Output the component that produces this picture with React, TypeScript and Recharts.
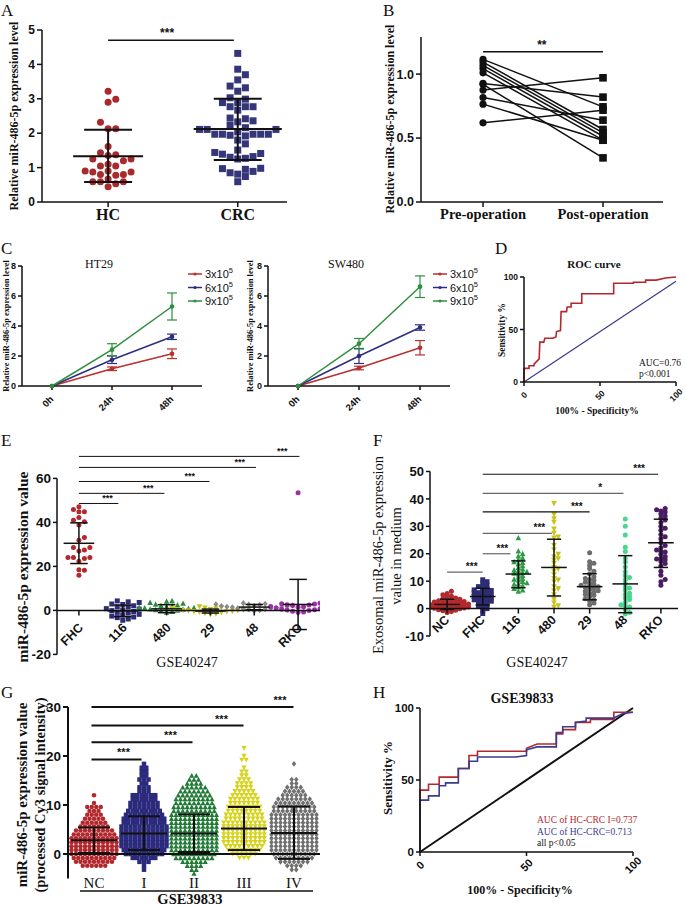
import React from 'react';
import {
  ScatterChart, Scatter, LineChart, Line, XAxis, YAxis, ReferenceLine, ReferenceDot, ErrorBar,
} from 'recharts';

const SANS = '"Liberation Sans", Arial, sans-serif';
const SERIF = '"Liberation Serif", "Times New Roman", serif';
const INK = '#111';
const RED = '#b3282d';
const NAVY = '#2e2d74';
const TOP = 900; // draw bars and brackets above the dots

// --- A: HC vs CRC ---
const aGroups = ['HC', 'CRC'];
const hcValues = [3.22, 2.99, 2.9, 2.32, 2.13, 2.13, 1.61, 1.43, 1.35, 1.37, 1.25, 1.25, 1.1, 1.05, 1.05, 1.2, 0.9, 0.87, 0.9, 0.87, 0.8, 0.78, 0.8, 0.67, 0.59, 0.59, 0.59, 0.53, 0.44];
const crcValues = [4.32, 3.86, 3.7, 3.55, 3.32, 3.37, 3.22, 2.99, 3.03, 2.89, 2.77, 2.77, 2.77, 2.89, 2.67, 2.42, 2.36, 2.44, 2.33, 2.23, 2.11, 2.11, 2.11, 2.16, 1.97, 1.97, 1.97, 2.04, 1.92, 1.94, 1.97, 1.97, 1.69, 1.8, 1.51, 1.44, 1.39, 1.32, 1.27, 1.25, 1.3, 1.41, 0.98, 0.95, 0.89, 0.85, 0.81, 0.74, 0.97, 0.59];
const aMean = [1.33, 2.12];
const aLow = [0.58, 1.22];
const aHigh = [2.1, 3.0];
const aMeanHalf = [0.27, 0.34];

// --- B: pre / post operation pairs ---
const bGroups = ['Pre-operation', 'Post-operation'];
const preOp = [1.115, 1.094, 1.068, 1.042, 1.01, 0.927, 0.92, 0.875, 0.817, 0.765, 0.619];
const postOp = [0.744, 0.567, 0.54, 0.514, 0.483, 0.82, 0.345, 0.971, 0.64, 0.483, 0.718];

// --- C: time course ---
const hours = ['0h', '24h', '48h'];
const ht29Low = [0, 1.15, 2.15];
const ht29LowErr = [0, 0.12, 0.32];
const ht29Mid = [0, 1.75, 3.28];
const ht29MidErr = [0, 0.25, 0.18];
const ht29High = [0, 2.42, 5.3];
const ht29HighErr = [0, 0.4, 0.9];
const swLow = [0, 1.2, 2.55];
const swLowErr = [0, 0.12, 0.48];
const swMid = [0, 2.0, 3.9];
const swMidErr = [0, 0.5, 0.18];
const swHigh = [0, 2.82, 6.62];
const swHighErr = [0, 0.35, 0.72];
const cellDensity = ['3x10', '6x10', '9x10'];
const cColors = ['#b8312f', '#2d2d82', '#2f8f3f'];

// --- D: ROC ---
const rocD = [[0, 0], [0, 13], [3.3, 13], [3.3, 15.5], [6.6, 15.5], [6.6, 17], [10, 22], [10.4, 38], [13, 38], [13.7, 41.6], [19, 41.6], [21, 43], [21.4, 48], [24, 49], [24.4, 67], [28, 67], [28.4, 71.4], [31, 71.4], [31, 75], [38, 75], [38, 84], [59, 84], [59, 94], [72, 94], [72, 95], [80, 95], [80, 97], [87, 97], [93, 99], [100, 100]];
const rocDRef = [[0, 0], [100, 96]];

// --- E: GSE40247 cell lines ---
const eGroups = ['FHC', '116', '480', '29', '48', 'RKO'];
const eFhc = [47.1, 45.9, 44.8, 44.8, 42.2, 41, 40.3, 38.8, 33.1, 31.9, 28.6, 28.6, 27.4, 27, 24, 24, 24, 23.6, 22.3, 18.5, 18.2, 16];
const e116 = [4.3, 3.9, 3.6, 2.9, 2.7, 2.1, 1.6, 1.5, 0.8, 0.6, 0.2, -0.1, -0.5, -0.9, -1.2, -1.8, -2.1, -2.6, -3.0, -3.3, -3.9, -4.5];
const e480 = [4.4, 4.1, 3.6, 3.2, 2.8, 2.5, 2.0, 1.7, 1.4, 1.1, 0.9, 0.6, 0.3, 0.1, -0.2, -0.5, -0.8, 0.5, 1.2, 2.2];
const e29 = [1.6, 1.3, 1.1, 0.8, 0.6, 0.4, 0.2, 0.0, -0.2, -0.4, -0.6, -0.8, -1.0, -1.3, -1.6, -1.9, 0.3, -0.1, 0.9, -0.5];
const e48 = [3.3, 3.0, 2.7, 2.5, 2.3, 2.0, 1.8, 1.6, 1.4, 1.2, 1.0, 0.8, 0.6, 0.4, 0.1, -0.2, 2.1, 1.5, 0.9, 2.8];
const eRko = [53.5, 3.3, 3.0, 2.6, 2.2, 1.8, 1.4, 1.1, 0.8, 0.5, 0.2, -0.1, -0.4, -0.7, 2.9, 1.6, 0.3, 1.2, 2.4, -0.9];
const eMean = [30.5, -0.2, 0.7, -0.3, 1.5, 2.7];
const eLow = [21.3, -2.8, -1.0, -1.2, 0.3, -8.7];
const eHigh = [39.8, 2.4, 2.6, 0.6, 2.7, 14.1];
const eSig = [[0.9, 48.6, 0.65], [1.95, 53.2, 1.58], [2.98, 58.6, 2.53], [4.04, 65, 3.67], [5.03, 70, 4.64]];

// --- F: exosomal, GSE40247 ---
const fGroups = ['NC', 'FHC', '116', '480', '29', '48', 'RKO'];
const fNc = [6.3, 5.5, 5.0, 4.6, 4.2, 3.9, 3.6, 3.4, 3.1, 2.8, 2.6, 2.4, 2.2, 2.0, 1.8, 1.6, 1.5, 1.3, 1.1, 1.0, 0.8, 0.6, 0.5, 0.3, 0.2, 0.0, -0.2, -0.4, -0.6, -0.8, -1.1, 1.2, 1.7, 2.3, 0.9, 0.4, 2.9, 3.3, 1.4, -0.1, 0.7, 1.9, 2.5, 0.1, -1.4];
const fFhc = [10.5, 9.8, 9.2, 8.5, 8.0, 7.6, 7.1, 6.8, 6.4, 6.0, 5.7, 5.3, 5.0, 4.7, 4.4, 4.1, 3.8, 3.5, 3.2, 2.9, 2.5, 2.2, 1.8, 1.4, 1.0, 0.5, 0.0, -0.6, -1.8, 4.9, 3.9, 5.8, 2.7, 6.6];
const f116 = [25.8, 21, 20, 19.2, 18.5, 17.8, 17.1, 16.3, 15.6, 15.0, 14.4, 13.8, 13.2, 12.6, 12.1, 11.5, 11.0, 10.4, 9.9, 9.4, 8.9, 8.4, 7.9, 7.3, 6.8, 6.3, 12.9, 14.1, 10.7, 9.1, 16.8, 13.5];
const f480 = [38.3, 34.3, 32.8, 31.5, 29.0, 27.5, 25.7, 23.0, 21.5, 19.8, 18.8, 17.6, 16.5, 15.0, 13.6, 12.3, 11.0, 9.8, 8.0, 6.5, 5.0, 3.4, 2.0, 1.0, 0.5, 18.2, 14.4, 10.4, 26.1, 7.2];
const f29 = [20.4, 17.1, 16.5, 15.8, 14.6, 13.6, 12.7, 11.6, 11.0, 10.3, 9.6, 9.0, 8.5, 8.0, 7.5, 7.0, 6.5, 6.0, 5.5, 4.9, 4.3, 3.6, 2.8, 2.0, 1.4, 8.2, 7.7, 9.3, 6.3, 5.1, 10.6, 3.1];
const f48 = [32.7, 30.0, 26.8, 22.4, 20.8, 18.3, 17.0, 15.2, 13.4, 12.1, 10.5, 9.2, 8.0, 6.8, 5.6, 4.4, 3.3, 2.3, 1.4, 0.6, -0.4, -1.4, -2.0, 7.5, 11.3, 3.9, 1.0, 5.2];
const fRko = [36.5, 36.0, 35.6, 35.2, 34.5, 33.8, 33.0, 32.3, 31.4, 30.0, 28.6, 27.0, 25.5, 24.0, 23.0, 22.2, 21.4, 20.6, 19.8, 19.0, 18.4, 17.8, 17.2, 16.4, 15.5, 13.6, 12.2, 10.6, 9.8, 8.5, 29.3, 26.2, 20.9, 18.1];
const fMean = [1.5, 4.4, 12.6, 15, 8.0, 9.0, 24];
const fLow = [-0.3, 1.3, 7.6, 4.6, 3.2, -1.5, 15.0];
const fHigh = [3.4, 7.4, 17.4, 25.3, 12.7, 19.3, 32.6];
// [from, to, y, label x, text, grey line]
const fSig: [number, number, number, number, string, boolean][] = [
  [0, 1.0, 13.3, 0.69, '***', true],
  [1, 1.78, 20, 1.55, '***', true],
  [1, 2.94, 27.4, 2.59, '***', true],
  [1, 4.0, 35.3, 3.64, '***', false],
  [1, 4.95, 42, 4.3, '*', true],
  [1, 5.92, 49, 5.39, '***', false],
];

// --- G: GSE39833 stages, rows of [value, dots at that level] ---
const gGroups = ['NC', 'I', 'II', 'III', 'IV'];
const gNcRows = [[-2.4, 6], [-1.6, 9], [-0.8, 10], [0, 11], [0.8, 11], [1.6, 11], [2.4, 11], [3.2, 11], [4, 10], [4.8, 9], [5.6, 7], [6.4, 6], [7.2, 5], [8, 4], [8.8, 3], [9.6, 4], [10.4, 1], [12, 1]];
const gIRows = [[-3.2, 1], [-2.4, 1], [-1.6, 3], [-0.8, 6], [0, 9], [0.8, 10], [1.6, 11], [2.4, 11], [3.2, 11], [4, 11], [4.8, 11], [5.6, 11], [6.4, 10], [7.2, 10], [8, 9], [8.8, 8], [9.6, 7], [10.4, 7], [11.2, 6], [12, 6], [12.8, 3], [13.6, 3], [14.4, 2], [15.2, 3], [16, 2], [16.8, 2], [17.6, 2], [18.4, 1]];
const gIIRows = [[-4, 1], [-3.2, 2], [-2.4, 4], [-1.6, 6], [-0.8, 9], [0, 10], [0.8, 11], [1.6, 11], [2.4, 11], [3.2, 11], [4, 11], [4.8, 11], [5.6, 11], [6.4, 11], [7.2, 11], [8, 11], [8.8, 10], [9.6, 10], [10.4, 9], [11.2, 9], [12, 8], [12.8, 7], [13.6, 6], [14.4, 4], [15.2, 3], [16, 2]];
const gIIIRows = [[-0.8, 3], [0, 6], [0.8, 8], [1.6, 9], [2.4, 10], [3.2, 10], [4, 10], [4.8, 10], [5.6, 10], [6.4, 10], [7.2, 9], [8, 9], [8.8, 8], [9.6, 8], [10.4, 7], [11.2, 7], [12, 6], [12.8, 5], [13.6, 4], [14.4, 4], [15.2, 3], [16, 2], [16.8, 2], [17.6, 1], [19.2, 2], [20, 1], [21.6, 1]];
const gIVRows = [[-3.2, 2], [-2.4, 4], [-1.6, 7], [-0.8, 9], [0, 10], [0.8, 11], [1.6, 11], [2.4, 11], [3.2, 11], [4, 11], [4.8, 11], [5.6, 11], [6.4, 11], [7.2, 11], [8, 11], [8.8, 10], [9.6, 10], [10.4, 9], [11.2, 8], [12, 6], [12.8, 5], [13.6, 4], [14.4, 2], [15.2, 2], [18.4, 1]];
const gMean = [2.8, 4.2, 4.2, 5.2, 4.3];
const gLow = [0.2, 0.8, 0.4, 0.8, -1.0];
const gHigh = [5.4, 7.7, 8.1, 9.6, 9.7];
const gSig = [[0.95, 19.3, 0.59], [1.97, 22.8, 1.53], [2.99, 26.2, 2.55], [3.99, 30, 3.72]];

// --- H: ROC GSE39833 ---
const rocHStage1 = [[0, 0], [0, 43], [4, 43], [4, 47], [9, 47], [9, 52], [18, 52], [18, 58], [23, 58], [23, 67], [27, 67], [27, 70], [50, 70], [50, 72], [55, 75], [64, 75], [64, 82], [67, 82], [67, 85], [73, 85], [73, 90], [80, 90], [80, 92], [91, 92], [91, 97], [100, 97]];
const rocHAll = [[0, 0], [0, 36], [4, 36], [4, 39], [9, 39], [9, 46], [12, 46], [12, 48], [18, 48], [18, 58], [23, 58], [23, 63], [27, 63], [27, 66], [45, 66], [50, 67], [50, 71], [55, 73], [64, 73], [64, 83], [67, 83], [67, 87], [73, 87], [73, 90], [78, 91], [78, 93], [91, 93], [95, 96], [100, 97]];
const rocHRef = [[0, 0], [100, 100]];

// ---------- helpers ----------
const frame = (pl: number, pt: number, pr: number, pb: number, wY: number, hX: number) => {
  const P = 40;
  return {
    style: { position: 'absolute' as const, left: pl - P, top: pt - P },
    width: pr - pl + 2 * P,
    height: pb - pt + 2 * P,
    margin: { top: P, right: P, bottom: P - hX, left: P - wY },
  };
};

// beeswarm: points closer than dy in value get pushed sideways by dx
function swarm(values: number[], center: number, dy: number, dx: number) {
  const placed: { v: number; s: number }[] = [];
  return [...values].sort((a, b) => a - b).map((v) => {
    let s = 0;
    for (let k = 0; k < 80; k++) {
      const c = k === 0 ? 0 : k % 2 ? (k + 1) / 2 : -k / 2;
      if (!placed.some((p) => p.s === c && Math.abs(p.v - v) < dy)) { s = c; break; }
    }
    placed.push({ v, s });
    return { x: center + s * dx, y: v };
  });
}

function rows(list: number[][], center: number, dx: number) {
  const out: { x: number; y: number }[] = [];
  list.forEach(([v, n]) => {
    for (let j = 0; j < n; j++) out.push({ x: center + (j - (n - 1) / 2) * dx, y: v });
  });
  return out;
}

const toXY = (pts: number[][]) => pts.map(([x, y]) => ({ x, y }));

type Kind = 'circle' | 'square' | 'tri' | 'itri' | 'diamond';
const marker = (kind: Kind, size: number, color: string) => (p: any) => {
  const { cx, cy } = p;
  if (cx == null || cy == null) return <g />;
  const h = size / 2;
  if (kind === 'square') return <rect x={cx - h} y={cy - h} width={size} height={size} fill={color} />;
  if (kind === 'tri') return <polygon points={`${cx},${cy - h - 0.4} ${cx + h + 0.3},${cy + h} ${cx - h - 0.3},${cy + h}`} fill={color} />;
  if (kind === 'itri') return <polygon points={`${cx - h - 0.3},${cy - h} ${cx + h + 0.3},${cy - h} ${cx},${cy + h + 0.4}`} fill={color} />;
  if (kind === 'diamond') return <polygon points={`${cx},${cy - h - 0.6} ${cx + h},${cy} ${cx},${cy + h + 0.6} ${cx - h},${cy}`} fill={color} />;
  return <circle cx={cx} cy={cy} r={h} fill={color} />;
};

const seg = (key: string, x1: number, y1: number, x2: number, y2: number, sw: number, color = INK) => (
  <ReferenceLine key={key} segment={[{ x: x1, y: y1 }, { x: x2, y: y2 }]} stroke={color} strokeWidth={sw}
    ifOverflow="visible" zIndex={TOP} />
);

const meanSd = (key: string, x: number, mean: number, lo: number, hi: number, wMean: number, wCap: number, sw: number) => [
  seg(key + 'v', x, lo, x, hi, sw),
  seg(key + 'm', x - wMean, mean, x + wMean, mean, sw),
  seg(key + 'l', x - wCap, lo, x + wCap, lo, sw),
  seg(key + 'h', x - wCap, hi, x + wCap, hi, sw),
];

const textAt = (key: string, x: number, y: number, t: string, size: number, dy = -2) => (
  <ReferenceDot key={key} x={x} y={y} r={1} ifOverflow="visible" zIndex={TOP}
    shape={(p: any) => (
      <text x={p.cx} y={p.cy + dy} textAnchor="middle" fontFamily={SANS} fontWeight={700} fontSize={size} fill={INK}>{t}</text>
    )} />
);

const catLabel = (key: string, x: number, t: string, size: number, ox: number, oy: number) => (
  <ReferenceDot key={key} x={x} y={0} r={1} ifOverflow="visible" zIndex={TOP}
    shape={(p: any) => {
      const tx = p.cx + ox;
      const ty = p.cy + oy;
      return (
        <g>
          <line x1={p.cx} y1={p.cy} x2={p.cx} y2={p.cy + 5} stroke={INK} strokeWidth={1.5} />
          <text x={tx} y={ty} transform={`rotate(-45 ${tx} ${ty})`} textAnchor="end" fontFamily={SANS} fontWeight={700} fontSize={size} fill={INK}>{t}</text>
        </g>
      );
    }} />
);

const axisLine = { stroke: INK, strokeWidth: 1.5 };
const tickFont = (size: number) => ({ fontFamily: SANS, fontWeight: 700, fontSize: size, fill: INK });

const rotEndTick = (size: number, ox: number, oy: number) => (p: any) => {
  const x = p.x + ox;
  const y = p.y + oy;
  return (
    <text x={x} y={y} transform={`rotate(-45 ${x} ${y})`} textAnchor="end" fontFamily={SANS} fontWeight={700} fontSize={size} fill={INK}>
      {p.payload.value}
    </text>
  );
};

const rotMidTick = (size: number, oy: number) => (p: any) => {
  const x = p.x;
  const y = p.y + oy;
  return (
    <text x={x} y={y} transform={`rotate(-45 ${x} ${y})`} textAnchor="middle" dominantBaseline="central" fontFamily={SANS} fontWeight={700} fontSize={size} fill={INK}>
      {p.payload.value}
    </text>
  );
};

// ---------- panels ----------
function PanelA() {
  const f = frame(42, 30, 287, 202, 30, 30);
  const hc = swarm(hcValues, 1, 0.2, 0.059);
  const crc = swarm(crcValues, 2, 0.2, 0.059);
  return (
    <div style={f.style}>
      <ScatterChart width={f.width} height={f.height} margin={f.margin}>
        <XAxis type="number" dataKey="x" domain={[0.49, 2.38]} allowDataOverflow ticks={[1, 2]} height={30}
          tickFormatter={(v: number) => aGroups[Math.round(v) - 1]} tick={{ fontFamily: SERIF, fontWeight: 700, fontSize: 16, fill: INK }}
          tickSize={5} tickMargin={2} axisLine={axisLine} tickLine={axisLine} />
        <YAxis type="number" dataKey="y" domain={[0, 5]} allowDataOverflow ticks={[0, 1, 2, 3, 4, 5]} width={30}
          tick={tickFont(12)} tickSize={5} axisLine={axisLine} tickLine={axisLine} />
        <Scatter data={hc} shape={marker('circle', 7, '#a82a2c')} isAnimationActive={false} />
        <Scatter data={crc} shape={marker('square', 7, '#35357a')} isAnimationActive={false} />
        {aMean.map((m, i) => meanSd('a' + i, i + 1, m, aLow[i], aHigh[i], aMeanHalf[i], 0.185, 2))}
        {seg('asig', 1, 4.7, 1.97, 4.7, 1.5)}
        {textAt('asigt', 1.455, 4.7, '***', 12, -3)}
      </ScatterChart>
    </div>
  );
}

function PanelB() {
  const f = frame(421, 37, 663, 202, 35, 30);
  const pairs = preOp.map((v, i) => [{ x: 1, y: v }, { x: 2, y: postOp[i] }]);
  const dot = (p: any) => {
    const { cx, cy, payload, key } = p;
    return payload.x === 1
      ? <circle key={key} cx={cx} cy={cy} r={3.6} fill={INK} />
      : <rect key={key} x={cx - 3.8} y={cy - 3.8} width={7.6} height={7.6} fill={INK} />;
  };
  return (
    <div style={f.style}>
      <LineChart width={f.width} height={f.height} margin={f.margin}>
        <XAxis type="number" dataKey="x" domain={[0.483, 2.5]} allowDataOverflow ticks={[1, 2]} height={30}
          tickFormatter={(v: number) => bGroups[Math.round(v) - 1]} tick={{ fontFamily: SERIF, fontWeight: 700, fontSize: 14.5, fill: INK }}
          tickSize={5} tickMargin={2} axisLine={axisLine} tickLine={axisLine} />
        <YAxis type="number" dataKey="y" domain={[0, 1.29]} allowDataOverflow ticks={[0, 0.5, 1]} width={35}
          tickFormatter={(v: number) => v.toFixed(1)} tick={tickFont(12.5)} tickSize={5} axisLine={axisLine} tickLine={axisLine} />
        {pairs.map((d, i) => (
          <Line key={'b' + i} data={d} dataKey="y" stroke={INK} strokeWidth={1.5} dot={dot} isAnimationActive={false} />
        ))}
        {seg('bsig', 1, 1.175, 2, 1.175, 1.5)}
        {textAt('bsigt', 1.49, 1.175, '**', 12, -3)}
      </LineChart>
    </div>
  );
}

function PanelC({ left, right, low, lowErr, mid, midErr, high, highErr }: any) {
  const f = frame(left, 266, right, 386, 22, 30);
  const data = hours.map((t, i) => ({
    t, a: low[i], aErr: lowErr[i], b: mid[i], bErr: midErr[i], c: high[i], cErr: highErr[i],
  }));
  const keys = ['a', 'b', 'c'];
  return (
    <div style={f.style}>
      <LineChart width={f.width} height={f.height} margin={f.margin} data={data}>
        <XAxis dataKey="t" padding={{ left: 30, right: 30 }} height={30} tick={rotEndTick(9.5, 2, 8)}
          tickSize={4} axisLine={axisLine} tickLine={axisLine} interval={0} />
        <YAxis type="number" domain={[0, 8]} ticks={[0, 2, 4, 6, 8]} width={22} tick={tickFont(9)}
          tickSize={4} axisLine={axisLine} tickLine={axisLine} />
        {keys.map((k, i) => (
          <Line key={k} dataKey={k} type="linear" stroke={cColors[i]} strokeWidth={1.5} isAnimationActive={false}
            dot={{ r: 1.6, fill: cColors[i], stroke: cColors[i] }}>
            <ErrorBar dataKey={k + 'Err'} width={5} stroke={cColors[i]} strokeWidth={1.2} direction="y" />
          </Line>
        ))}
      </LineChart>
    </div>
  );
}

function PanelD() {
  const f = frame(524, 277, 676, 382, 20, 25);
  return (
    <div style={f.style}>
      <LineChart width={f.width} height={f.height} margin={f.margin}>
        <XAxis type="number" dataKey="x" domain={[0, 100]} ticks={[0, 50, 100]} height={25} tick={rotMidTick(8.5, 7)}
          tickSize={4} axisLine={axisLine} tickLine={axisLine} />
        <YAxis type="number" dataKey="y" domain={[0, 100]} ticks={[0, 50, 100]} width={20} tick={tickFont(8.5)}
          tickSize={4} axisLine={axisLine} tickLine={axisLine} />
        <Line data={toXY(rocDRef)} dataKey="y" stroke="#3a3a8c" strokeWidth={1.2} dot={false} isAnimationActive={false} />
        <Line data={toXY(rocD)} dataKey="y" stroke={RED} strokeWidth={1.6} dot={false} isAnimationActive={false} />
      </LineChart>
    </div>
  );
}

function PanelE() {
  const f = frame(57, 451.6, 320, 654, 30, 0);
  const series: [number[], Kind, string][] = [
    [eFhc, 'circle', RED], [e116, 'square', NAVY], [e480, 'tri', '#2f8a3c'],
    [e29, 'itri', '#c8c31b'], [e48, 'diamond', '#8a8a8a'], [eRko, 'circle', '#9c2fa6'],
  ];
  return (
    <div style={f.style}>
      <ScatterChart width={f.width} height={f.height} margin={f.margin}>
        <XAxis type="number" dataKey="x" domain={[-0.5, 5.5]} allowDataOverflow hide />
        <YAxis type="number" dataKey="y" domain={[-20, 72]} allowDataOverflow ticks={[-20, 0, 20, 40, 60]} width={30}
          tick={tickFont(13.5)} tickSize={4} axisLine={false} tickLine={axisLine} />
        {series.map(([vals, kind, color], i) => (
          <Scatter key={'e' + i} data={swarm(vals, i, 2.3, 0.125)} shape={marker(kind, 5, color)} isAnimationActive={false} />
        ))}
        {seg('eax', -0.5, -20, -0.5, 60, 1.5)}
        {seg('ezero', -0.5, 0, 5.5, 0, 1.5)}
        {eGroups.map((g, i) => catLabel('ec' + i, i, g, 12.5, 5, 18))}
        {eMean.map((m, i) => meanSd('e' + i, i, m, eLow[i], eHigh[i], 0.35, 0.2, 1.5))}
        {eSig.map(([end, y, tx], i) => [seg('es' + i, 0, y, end, y, 1), textAt('est' + i, tx, y, '***', 9, -2)])}
      </ScatterChart>
    </div>
  );
}

function PanelF() {
  const f = frame(430, 466, 678, 636, 30, 0);
  const series: [number[], Kind, string][] = [
    [fNc, 'circle', RED], [fFhc, 'square', NAVY], [f116, 'tri', '#2f9a44'], [f480, 'itri', '#c8c31b'],
    [f29, 'circle', '#6d6d6d'], [f48, 'circle', '#4cd68c'], [fRko, 'circle', '#4a1c64'],
  ];
  return (
    <div style={f.style}>
      <ScatterChart width={f.width} height={f.height} margin={f.margin}>
        <XAxis type="number" dataKey="x" domain={[-0.48, 6.48]} allowDataOverflow hide />
        <YAxis type="number" dataKey="y" domain={[-10, 52]} allowDataOverflow ticks={[-10, 0, 10, 20, 30, 40, 50]} width={30}
          tick={tickFont(13)} tickSize={4} axisLine={false} tickLine={axisLine} />
        {series.map(([vals, kind, color], i) => (
          <Scatter key={'f' + i} data={swarm(vals, i, 1.05, 0.12)} shape={marker(kind, 5, color)} isAnimationActive={false} />
        ))}
        {seg('fax', -0.48, -10, -0.48, 50, 1.5)}
        {seg('fzero', -0.48, 0, 6.48, 0, 1.5)}
        {fGroups.map((g, i) => catLabel('fc' + i, i, g, 12.5, 3, 12))}
        {fMean.map((m, i) => meanSd('f' + i, i, m, fLow[i], fHigh[i], 0.36, 0.2, 1.5))}
        {fSig.map(([from, to, y, tx, t, grey], i) => [
          seg('fs' + i, from, y, to, y, 1.2, grey ? '#666' : INK),
          textAt('fst' + i, tx, y, t, 10, -2),
        ])}
      </ScatterChart>
    </div>
  );
}

function PanelG() {
  const f = frame(68, 707, 320, 878.5, 30, 0);
  const series: [number[][], Kind, string][] = [
    [gNcRows, 'circle', RED], [gIRows, 'square', '#2b2a7c'], [gIIRows, 'tri', '#217a35'],
    [gIIIRows, 'itri', '#d7d21a'], [gIVRows, 'diamond', '#707070'],
  ];
  return (
    <div style={f.style}>
      <ScatterChart width={f.width} height={f.height} margin={f.margin}>
        <XAxis type="number" dataKey="x" domain={[-0.52, 4.52]} allowDataOverflow hide />
        <YAxis type="number" dataKey="y" domain={[-5, 30]} allowDataOverflow ticks={[0, 10, 20, 30]} width={30}
          tick={tickFont(13.5)} tickSize={5} axisLine={{ stroke: INK, strokeWidth: 2 }} tickLine={{ stroke: INK, strokeWidth: 2 }} />
        {series.map(([list, kind, color], i) => (
          <Scatter key={'g' + i} data={rows(list, i, 0.09)} shape={marker(kind, 4.5, color)} isAnimationActive={false} />
        ))}
        {seg('gzero', -0.52, 0, 4.52, 0, 2)}
        {gMean.map((m, i) => meanSd('g' + i, i, m, gLow[i], gHigh[i], 0.46, 0.32, 2))}
        {gSig.map(([end, y, tx], i) => [seg('gs' + i, -0.05, y, end, y, 2), textAt('gst' + i, tx, y, '***', 11, -3)])}
        {gGroups.map((g, i) => (
          <ReferenceDot key={'gc' + i} x={i} y={-5} r={1} ifOverflow="visible" zIndex={TOP}
            shape={(p: any) => (
              <text x={p.cx} y={p.cy + 9} textAnchor="middle" fontFamily={SERIF} fontSize={15} fill={INK}>{g}</text>
            )} />
        ))}
      </ScatterChart>
    </div>
  );
}

function PanelH() {
  const f = frame(420, 708, 633, 852, 28, 25);
  return (
    <div style={f.style}>
      <LineChart width={f.width} height={f.height} margin={f.margin}>
        <XAxis type="number" dataKey="x" domain={[0, 100]} ticks={[0, 50, 100]} height={25} tick={rotMidTick(11, 7)}
          tickSize={4} axisLine={axisLine} tickLine={axisLine} />
        <YAxis type="number" dataKey="y" domain={[0, 100]} ticks={[0, 50, 100]} width={28} tick={tickFont(11.5)}
          tickSize={4} axisLine={axisLine} tickLine={axisLine} />
        <Line data={toXY(rocHRef)} dataKey="y" stroke={INK} strokeWidth={2} dot={false} isAnimationActive={false} />
        <Line data={toXY(rocHStage1)} dataKey="y" stroke={RED} strokeWidth={1.6} dot={false} isAnimationActive={false} />
        <Line data={toXY(rocHAll)} dataKey="y" stroke="#3b3b8f" strokeWidth={1.6} dot={false} isAnimationActive={false} />
      </LineChart>
    </div>
  );
}

// ---------- titles, letters, legends ----------
const VText = ({ x, y, size, bold = true, children }: any) => (
  <text x={x} y={y} transform={`rotate(-90 ${x} ${y})`} textAnchor="middle" fontFamily={SERIF}
    fontWeight={bold ? 700 : 400} fontSize={size} fill={INK}>{children}</text>
);

const T = ({ x, y, size, bold = false, anchor = 'middle', color = INK, children }: any) => (
  <text x={x} y={y} textAnchor={anchor} fontFamily={SERIF} fontWeight={bold ? 700 : 400} fontSize={size} fill={color}>{children}</text>
);

const CLegend = ({ x0, x1 }: { x0: number; x1: number }) => (
  <g>
    {cellDensity.map((label, i) => {
      const y = 274 + i * 13.5;
      return (
        <g key={label}>
          <line x1={x0} x2={x1} y1={y} y2={y} stroke={cColors[i]} strokeWidth={1.5} />
          <circle cx={(x0 + x1) / 2} cy={y} r={1.6} fill={cColors[i]} />
          <text x={x1 + 3} y={y + 4} fontFamily={SANS} fontSize={11} fill={INK}>
            {label}<tspan dy={-5} fontSize={7.5}>5</tspan>
          </text>
        </g>
      );
    })}
  </g>
);

function Overlay() {
  return (
    <svg width={685} height={906} style={{ position: 'absolute', left: 0, top: 0, pointerEvents: 'none' }}>
      {/* panel letters */}
      <T x={1} y={16} size={17} anchor="start">A</T>
      <T x={383} y={16} size={17} anchor="start">B</T>
      <T x={1} y={254} size={17} anchor="start">C</T>
      <T x={495} y={254} size={17} anchor="start">D</T>
      <T x={1} y={446} size={17} anchor="start">E</T>
      <T x={373} y={446} size={17} anchor="start">F</T>
      <T x={1} y={698} size={17} anchor="start">G</T>
      <T x={373} y={698} size={17} anchor="start">H</T>

      {/* A, B */}
      <VText x={18} y={116} size={12}>Relative miR-486-5p expression level</VText>
      <VText x={394} y={119} size={12}>Relative miR-486-5p expression level</VText>

      {/* C */}
      <T x={99} y={268} size={12}>HT29</T>
      <T x={346} y={268} size={12}>SW480</T>
      <VText x={9} y={326} size={8.4}>Relative miR-486-5p expression level</VText>
      <VText x={253} y={326} size={8.4}>Relative miR-486-5p expression level</VText>
      <CLegend x0={188} x1={202} />
      <CLegend x0={433} x1={447} />

      {/* D */}
      <T x={594} y={268} size={11} bold>ROC curve</T>
      <VText x={504.5} y={330} size={9.5}>Sensitivity %</VText>
      <T x={597} y={414} size={9.5} bold>100% - Specificity%</T>
      <T x={639} y={366} size={9.5} anchor="start">AUC=0.76</T>
      <T x={639} y={376.5} size={9.5} anchor="start">p&lt;0.001</T>

      {/* E */}
      <VText x={27.5} y={567} size={15.5}>miR-486-5p expression value</VText>
      <T x={187} y={667} size={14}>GSE40247</T>

      {/* F */}
      <VText x={383} y={555} size={14.5} bold={false}>Exosomal miR-486-5p expression</VText>
      <VText x={401} y={556} size={14.5} bold={false}>value in medium</VText>
      <T x={537} y={667} size={14}>GSE40247</T>

      {/* G */}
      <VText x={26.5} y={795} size={15}>miR-486-5p expression value</VText>
      <VText x={44.5} y={795} size={14.5}>(processed Cy3 signal intensity)</VText>
      <line x1={80} x2={313} y1={891} y2={891} stroke={INK} strokeWidth={1.5} />
      <T x={190} y={904} size={14.5} bold>GSE39833</T>

      {/* H */}
      <T x={522} y={703} size={14} bold>GSE39833</T>
      <VText x={391.5} y={778} size={13}>Sensitivity %</VText>
      <T x={520} y={894} size={12} bold>100% - Specificity%</T>
      <T x={537} y={823} size={9.5} anchor="start" color={RED}>AUC of HC-CRC I=0.737</T>
      <T x={537} y={835} size={9.5} anchor="start" color="#3b3b8f">AUC of HC-CRC=0.713</T>
      <T x={537} y={846} size={9.5} anchor="start">all p&lt;0.05</T>
    </svg>
  );
}

export default function App() {
  return (
    <div style={{ position: 'absolute', left: 0, top: 0, width: 685, height: 906, background: '#fff', overflow: 'hidden' }}>
      <PanelA />
      <PanelB />
      <PanelC left={22} right={202} low={ht29Low} lowErr={ht29LowErr} mid={ht29Mid} midErr={ht29MidErr} high={ht29High} highErr={ht29HighErr} />
      <PanelC left={268} right={450} low={swLow} lowErr={swLowErr} mid={swMid} midErr={swMidErr} high={swHigh} highErr={swHighErr} />
      <PanelD />
      <PanelE />
      <PanelF />
      <PanelG />
      <PanelH />
      <Overlay />
    </div>
  );
}
